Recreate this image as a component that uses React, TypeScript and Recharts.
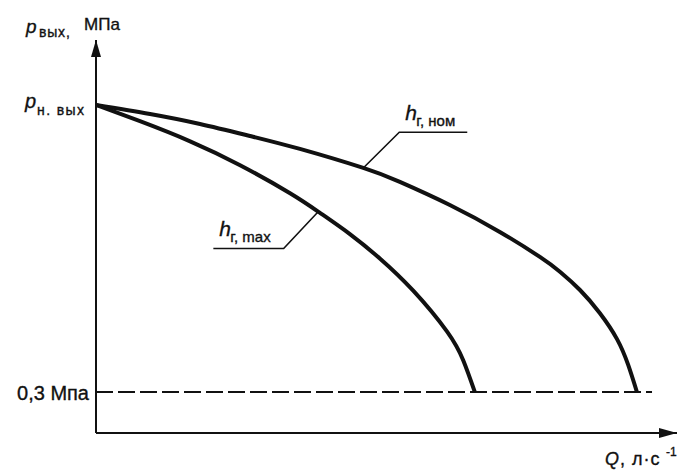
import React from "react"
import { LineChart, Line, XAxis, YAxis, ReferenceLine, ReferenceDot } from "recharts"

// flow Q (arbitrary units along the axis) and outlet pressure p, MPa
const nomQ = [0, 0.93, 1.79, 2.65, 3.51, 4.6, 5.23, 6.09, 6.95, 7.64, 7.99, 8.33, 8.67, 8.97, 9.16, 9.31]
const nomP = [2.4, 2.334, 2.261, 2.173, 2.078, 1.939, 1.837, 1.668, 1.471, 1.288, 1.178, 1.046, 0.878, 0.685, 0.498, 0.3]

const maxQ = [0, 0.757, 1.62, 2.48, 3.34, 3.86, 4.37, 4.89, 5.46, 6.04, 6.32, 6.52]
const maxP = [2.4, 2.281, 2.134, 1.959, 1.754, 1.609, 1.455, 1.275, 1.041, 0.743, 0.532, 0.3]

// leader lines for the curve labels
const nomLeaderQ = [4.6, 5.22, 6.39]
const nomLeaderP = [1.939, 2.2, 2.2]
const maxLeaderQ = [3.82, 3.23, 2.02]
const maxLeaderP = [1.617, 1.35, 1.35]

const minPressure = 0.3
const dashEnd = 9.57
const yTicks = [0.3, 2.4]
const xMax = 10
const yMax = 2.875

const toRows = (q: number[], p: number[]) => q.map((v, i) => ({ q: v, p: p[i] }))

const nomData = toRows(nomQ, nomP)
const maxData = toRows(maxQ, maxP)
const nomLeader = toRows(nomLeaderQ, nomLeaderP)
const maxLeader = toRows(maxLeaderQ, maxLeaderP)

const FONT = "'Liberation Sans', Arial, Helvetica, sans-serif"
const INK = "#111"
const textInk = { fill: INK, stroke: INK, strokeWidth: 0.35 }

const YTick = ({ x, y, payload }: any) => {
  if (payload.value === 0.3) {
    return (
      <text x={x - 7} y={y + 8} textAnchor="end" fontFamily={FONT} fontSize={20} {...textInk}>
        0,3 Мпа
      </text>
    )
  }
  return (
    <g fontFamily={FONT} {...textInk}>
      <text x={x - 71} y={y + 3} fontSize={20} fontStyle="italic">p</text>
      <text x={x - 59} y={y + 10} fontSize={14} letterSpacing={1.4}>н. вых</text>
    </g>
  )
}

const CurveLabel = ({ cx, cy, sub }: any) => (
  <g fontFamily={FONT} {...textInk}>
    <text x={cx + 6} y={cy - 12} fontSize={21} fontStyle="italic">h</text>
    <text x={cx + 17} y={cy - 6} fontSize={15}>{sub}</text>
  </g>
)

const UpArrow = ({ cx, cy }: any) => (
  <g>
    <polygon points={`${cx},${cy} ${cx - 5},${cy + 17} ${cx + 5},${cy + 17}`} fill={INK} />
    <g fontFamily={FONT} {...textInk}>
      <text x={cx - 70} y={cy - 7} fontSize={19} fontStyle="italic">p</text>
      <text x={cx - 57} y={cy - 3} fontSize={14} letterSpacing={0.8}>вых,</text>
      <text x={cx - 12} y={cy - 10} fontSize={17}>МПа</text>
    </g>
  </g>
)

const RightArrow = ({ cx, cy }: any) => (
  <g>
    <polygon points={`${cx},${cy} ${cx - 18},${cy - 5} ${cx - 18},${cy + 5}`} fill={INK} />
    <g fontFamily={FONT} {...textInk}>
      <text x={cx - 72} y={cy + 32} fontSize={18} letterSpacing={1}>
        <tspan fontStyle="italic">Q</tspan>, л·c
      </text>
      <text x={cx - 11} y={cy + 23} fontSize={12}>-1</text>
    </g>
  </g>
)

export default function App() {
  return (
    <div style={{ position: "absolute", left: 0, top: 0, width: 679, height: 470, background: "#fff" }}>
      <LineChart width={679} height={470} margin={{ top: 40, right: 2, left: 0, bottom: 0 }}>
        <XAxis
          type="number"
          dataKey="q"
          domain={[0, xMax]}
          tick={false}
          tickLine={false}
          height={37}
          axisLine={{ stroke: INK, strokeWidth: 2 }}
          allowDataOverflow
        />
        <YAxis
          type="number"
          dataKey="p"
          domain={[0, yMax]}
          ticks={yTicks}
          tick={<YTick />}
          tickLine={false}
          tickSize={0}
          tickMargin={0}
          width={96}
          axisLine={{ stroke: INK, strokeWidth: 2 }}
          allowDataOverflow
        />
        <ReferenceLine
          segment={[
            { x: 0, y: minPressure },
            { x: dashEnd, y: minPressure },
          ]}
          stroke={INK}
          strokeWidth={1.8}
          strokeDasharray="17 5"
        />
        <Line
          data={nomData}
          dataKey="p"
          type="natural"
          stroke={INK}
          strokeWidth={4}
          dot={false}
          isAnimationActive={false}
        />
        <Line
          data={maxData}
          dataKey="p"
          type="natural"
          stroke={INK}
          strokeWidth={4}
          dot={false}
          isAnimationActive={false}
        />
        <Line
          data={nomLeader}
          dataKey="p"
          type="linear"
          stroke={INK}
          strokeWidth={1.6}
          dot={false}
          isAnimationActive={false}
        />
        <Line
          data={maxLeader}
          dataKey="p"
          type="linear"
          stroke={INK}
          strokeWidth={1.6}
          dot={false}
          isAnimationActive={false}
        />
        <ReferenceDot x={nomLeaderQ[1]} y={nomLeaderP[1]} r={0} shape={(props: any) => <CurveLabel {...props} sub="г, ном" />} />
        <ReferenceDot x={maxLeaderQ[2]} y={maxLeaderP[2]} r={0} shape={(props: any) => <CurveLabel {...props} sub="г, max" />} />
        <ReferenceDot x={0} y={yMax} r={0} shape={(props: any) => <UpArrow {...props} />} />
        <ReferenceDot x={xMax} y={0} r={0} shape={(props: any) => <RightArrow {...props} />} />
      </LineChart>
    </div>
  )
}
